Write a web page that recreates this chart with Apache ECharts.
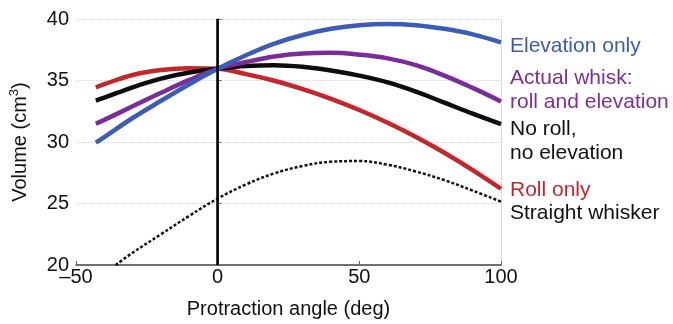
<!DOCTYPE html>
<html>
<head>
<meta charset="utf-8">
<script src="https://cdn.jsdelivr.net/npm/echarts@6/dist/echarts.min.js"></script>
<style>
  html, body { margin: 0; padding: 0; background: #fff; }
  #chart { width: 673px; height: 324px; }
</style>
</head>
<body>
<div id="chart"></div>
<script>
// protraction angles (deg) for the four modelled whiskers
const angles = [-43, -40, -30, -20, -10, 0, 10, 20, 30, 40, 50, 60, 70, 80, 90, 100];
const elevationOnly = [29.95, 30.4, 31.95, 33.35, 34.7, 35.95, 37.05, 38.0, 38.7, 39.2, 39.5, 39.6, 39.5, 39.2, 38.75, 38.1];
const actualWhisk = [31.48, 31.8, 32.9, 34.0, 35.05, 35.95, 36.5, 36.95, 37.2, 37.25, 37.1, 36.8, 36.25, 35.4, 34.4, 33.3];
const noRollNoElevation = [33.36, 33.6, 34.45, 35.15, 35.65, 35.95, 36.18, 36.25, 36.12, 35.82, 35.4, 34.85, 34.1, 33.2, 32.3, 31.45];
const rollOnly = [34.44, 34.7, 35.45, 35.85, 36.0, 35.95, 35.52, 34.98, 34.3, 33.51, 32.6, 31.56, 30.41, 29.13, 27.72, 26.2];

// straight whisker, clipped by the bottom of the axis
const straightAngles = [-36, -30, -20, -10, 0, 10, 20, 30, 40, 50, 60, 70, 80, 90, 100];
const straightWhisker = [20.0, 21.0, 22.5, 24.0, 25.4, 26.55, 27.45, 28.05, 28.4, 28.45, 28.15, 27.6, 26.9, 26.05, 25.15];

const seriesLabels = [
  "Straight whisker",
  "Roll only",
  "No roll,\nno elevation",
  "Actual whisk:\nroll and elevation",
  "Elevation only",
];
const zeroLineX = 0;

const FONT = "Liberation Sans, Arial, Helvetica, sans-serif";

function pairs(xs, ys) {
  return xs.map((x, i) => [x, ys[i]]);
}

function curve(name, xs, ys, color, labelColor, dy, extra) {
  return Object.assign({
    name: name,
    type: "line",
    data: pairs(xs, ys),
    smooth: 0.4,
    showSymbol: false,
    lineStyle: { color: color, width: 4.5, cap: "butt" },
    itemStyle: { color: color },
    endLabel: {
      show: true,
      formatter: name,
      color: labelColor,
      fontSize: 21,
      fontFamily: FONT,
      lineHeight: 24,
      distance: 9,
      offset: [0, dy],
    },
  }, extra || {});
}

var chart = echarts.init(document.getElementById("chart"), null, { renderer: "canvas" });

var options = {
  animation: false,
  textStyle: { fontFamily: FONT },
  grid: { left: 76, right: 172, top: 19, bottom: 57 },
  xAxis: {
    type: "value",
    min: -50,
    max: 100,
    interval: 50,
    name: "Protraction angle (deg)",
    nameLocation: "middle",
    nameGap: 34,
    nameTextStyle: { fontSize: 20, color: "#111", fontFamily: FONT },
    axisLine: { onZero: false, lineStyle: { color: "#444", width: 1.5 } },
    axisTick: { inside: true, length: 4, lineStyle: { color: "#666" } },
    axisLabel: {
      fontSize: 20,
      color: "#111",
      margin: 2,
      formatter: (v) => (v < 0 ? "\u2013" + Math.abs(v) : String(v)),
    },
    splitLine: { show: false },
  },
  yAxis: [
    {
      type: "value",
      min: 20,
      max: 40,
      interval: 5,
      name: "{b|Volume (cm}{s|3}{b|)}",
      nameLocation: "middle",
      nameGap: 44,
      nameTextStyle: {
        rich: {
          b: { fontSize: 20, color: "#111", fontFamily: FONT, lineHeight: 24 },
          s: { fontSize: 13, color: "#111", fontFamily: FONT, lineHeight: 14, verticalAlign: "top" },
        },
      },
      axisLine: { show: true, lineStyle: { color: "#444", width: 1.5 } },
      axisTick: { show: true, inside: true, length: 4, lineStyle: { color: "#666" } },
      axisLabel: { fontSize: 20, color: "#111", margin: 7 },
      splitLine: { show: true, lineStyle: { color: "#d4d4d4", type: "dotted", width: 1 } },
    },
    {
      type: "value",
      position: "right",
      min: 20,
      max: 40,
      axisLine: { show: true, lineStyle: { color: "#d4d4d4", type: "dotted", width: 1 } },
      axisTick: { show: false },
      axisLabel: { show: false },
      splitLine: { show: false },
    },
  ],
  series: [
    curve(seriesLabels[0], straightAngles, straightWhisker, "#111", "#111", 12, {
      lineStyle: { color: "#111", width: 2.5, type: [3, 2] },
      markLine: {
        silent: true,
        symbol: "none",
        label: { show: false },
        lineStyle: { color: "#000", width: 2.5, type: "solid" },
        data: [{ xAxis: zeroLineX }],
      },
    }),
    curve(seriesLabels[1], angles, rollOnly, "#c4262c", "#c0272d", 1.5),
    curve(seriesLabels[2], angles, noRollNoElevation, "#0d0d0d", "#111", 17.5),
    curve(seriesLabels[3], angles, actualWhisk, "#7a2c9a", "#7b2f97", -11.5),
    curve(seriesLabels[4], angles, elevationOnly, "#3b5db6", "#3d5bab", 4),
  ],
};

chart.setOption(options);
</script>
</body>
</html>
